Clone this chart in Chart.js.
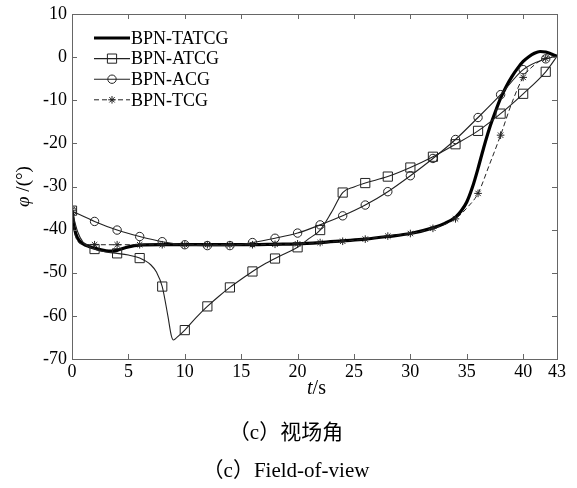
<!DOCTYPE html>
<html>
<head>
<meta charset="utf-8">
<script src="https://cdn.jsdelivr.net/npm/chart.js@4.4.1/dist/chart.umd.min.js"></script>
<style>
html, body { margin: 0; padding: 0; background: #fff; }
#wrap { position: relative; width: 577px; height: 488px; }
</style>
</head>
<body>
<div id="wrap"><canvas id="fov-chart" width="577" height="488"></canvas></div>
<script>
// --- 1. Data (t in s, phi in degrees) ---
const X_TICKS = [0, 5, 10, 15, 20, 25, 30, 35, 40, 43];
const Y_MIN = -70, Y_MAX = 10, Y_STEP = 10;

const T_TATCG = [0, 0.2, 0.5, 1, 1.5, 2, 3, 3.5, 4, 5, 6,
  8, 10, 12, 14, 16, 18, 20, 22, 24, 26, 28, 30, 32,
  33, 34, 34.5, 35, 35.5, 36, 36.5, 37, 37.5, 38, 38.5, 39, 39.5, 40, 40.5, 41, 41.5, 42, 42.5, 43];
const PHI_TATCG = [-35.5, -39.5, -42.0, -43.3, -43.9, -44.3, -44.9, -45.0, -44.8, -44.0, -43.6,
  -43.5, -43.5, -43.5, -43.5, -43.5, -43.4, -43.3, -43.0, -42.6, -42.2, -41.6, -40.9, -39.6,
  -38.6, -37.1, -35.7, -33.6, -30.2, -25.8, -21.0, -16.6, -12.9, -9.5, -6.8, -4.5, -2.6, -1.0, 0.1, 0.9, 1.3, 1.2, 0.7, 0.2];

const T_ATCG = [0, 0.5, 1, 2, 3, 4, 5, 6, 7, 7.5, 8, 8.5, 8.8, 9, 9.3, 10,
  11, 12, 13, 14, 15, 16, 17, 18, 19, 20, 21, 22, 23, 24, 25, 26,
  28, 30, 32, 34, 36, 38, 40, 42, 43];
const PHI_ATCG = [-35.6, -40.5, -43.0, -44.5, -45.2, -45.5, -45.9, -46.6, -48.2, -49.9, -53.2, -60.0, -64.5, -65.6, -65.0, -63.3,
  -60.4, -57.8, -55.5, -53.4, -51.5, -49.7, -48.1, -46.7, -45.4, -44.1, -42.1, -40.1, -36.0, -31.4, -30.1, -29.2,
  -27.7, -25.6, -23.1, -20.2, -17.1, -13.1, -8.5, -3.4, 0.2];

const T_ACG = [0, 2, 4, 6, 8, 10, 12, 14, 16, 18, 20, 22, 24, 26, 28, 30, 32, 34, 36, 38, 40, 42, 43];
const PHI_ACG = [-35.7, -38.1, -40.1, -41.6, -42.8, -43.5, -43.7, -43.7, -43.0, -42.0, -40.8, -38.9,
  -36.8, -34.3, -31.2, -27.5, -23.5, -19.1, -14.0, -8.7, -2.9, -0.4, 0.2];

const T_TCG = [0, 0.3, 1, 2, 4, 6, 8, 10, 12, 14, 16, 18, 20, 22, 24, 26, 28, 30, 32, 34,
  35, 36, 37, 38, 39, 40, 41, 42, 43];
const PHI_TCG = [-35.5, -41.5, -43.4, -43.5, -43.5, -43.5, -43.5, -43.5, -43.5, -43.5, -43.5, -43.4, -43.3, -43.0, -42.7, -42.2, -41.5, -40.9, -39.7, -37.5,
  -35.0, -31.6, -25.0, -18.1, -10.6, -4.7, -1.8, -0.3, 0.2];

const LABELS = ['BPN-TATCG', 'BPN-ATCG', 'BPN-ACG', 'BPN-TCG'];

// --- 2. Styles ---
const SERIF = "Liberation Serif";
const AXIS_GREY = '#666';
const styles = [
  { color: '#000', width: 3.2, dash: [], marker: false, radius: 0 },
  { color: '#222', width: 1.1, dash: [], marker: 'rect', radius: 6.5 },
  { color: '#222', width: 1.1, dash: [], marker: 'circle', radius: 4.2 },
  { color: '#222', width: 1.0, dash: [5, 3], marker: 'star', radius: 3.8 }
];
const seriesT = [T_TATCG, T_ATCG, T_ACG, T_TCG];
const seriesPhi = [PHI_TATCG, PHI_ATCG, PHI_ACG, PHI_TCG];

const datasets = LABELS.map((label, k) => {
  const st = styles[k];
  return {
    label: label,
    data: seriesT[k].map((t, i) => ({ x: t, y: seriesPhi[k][i] })),
    borderColor: st.color,
    borderWidth: st.width,
    borderDash: st.dash,
    cubicInterpolationMode: 'monotone',
    pointStyle: st.marker || 'circle',
    pointBorderColor: st.color,
    pointBackgroundColor: 'rgba(0,0,0,0)',
    pointBorderWidth: 1,
    // markers only every 2 s, like the original plot
    pointRadius: ctx => (st.marker && ctx.raw && ctx.raw.x % 2 === 0) ? st.radius : 0,
    order: 4 - k
  };
});

// --- 3. Plugins: box with inward ticks, axis titles, legend, caption ---
const framePlugin = {
  id: 'frame',
  afterDatasetsDraw(chart) {
    const { ctx, chartArea: a, scales } = chart;
    ctx.save();
    ctx.strokeStyle = AXIS_GREY;
    ctx.lineWidth = 1;
    ctx.strokeRect(Math.round(a.left) + 0.5, Math.round(a.top) + 0.5,
      Math.round(a.right - a.left), Math.round(a.bottom - a.top));
    const len = 5;
    ctx.beginPath();
    scales.x.ticks.forEach(tk => {
      const px = Math.round(scales.x.getPixelForValue(tk.value)) + 0.5;
      ctx.moveTo(px, a.bottom); ctx.lineTo(px, a.bottom - len);
      ctx.moveTo(px, a.top); ctx.lineTo(px, a.top + len);
    });
    scales.y.ticks.forEach(tk => {
      const py = Math.round(scales.y.getPixelForValue(tk.value)) + 0.5;
      ctx.moveTo(a.left, py); ctx.lineTo(a.left + len, py);
      ctx.moveTo(a.right, py); ctx.lineTo(a.right - len, py);
    });
    ctx.stroke();
    ctx.restore();
  }
};

function drawMixed(ctx, parts, cx, cy) {
  // parts: [text, italic, size]
  let total = 0;
  parts.forEach(p => { ctx.font = (p[1] ? 'italic ' : '') + p[2] + 'px "' + SERIF + '"'; total += ctx.measureText(p[0]).width; });
  let x = cx - total / 2;
  parts.forEach(p => {
    ctx.font = (p[1] ? 'italic ' : '') + p[2] + 'px "' + SERIF + '"';
    ctx.fillText(p[0], x, cy);
    x += ctx.measureText(p[0]).width;
  });
}

const labelPlugin = {
  id: 'labels',
  afterDraw(chart) {
    const { ctx, chartArea: a } = chart;
    ctx.save();
    ctx.fillStyle = '#000';
    ctx.textBaseline = 'middle';
    ctx.textAlign = 'left';
    // x title
    drawMixed(ctx, [['t', true, 20], ['/s', false, 20]], (a.left + a.right) / 2 + 2, 389);
    // y title (rotated)
    ctx.save();
    ctx.translate(24, (a.top + a.bottom) / 2);
    ctx.rotate(-Math.PI / 2);
    drawMixed(ctx, [['φ', true, 19], [' /(°)', false, 19]], 0, 0);
    ctx.restore();

    // legend inside the box
    const x0 = a.left + 22, x1 = a.left + 58;
    LABELS.forEach((label, k) => {
      const st = styles[k];
      const y = a.top + 24 + k * 20.6;
      ctx.save();
      ctx.strokeStyle = st.color;
      ctx.lineWidth = st.width;
      ctx.setLineDash(st.dash);
      ctx.beginPath(); ctx.moveTo(x0, y); ctx.lineTo(x1, y); ctx.stroke();
      ctx.setLineDash([]);
      if (st.marker) {
        ctx.lineWidth = 1;
        ctx.fillStyle = 'rgba(0,0,0,0)';
        Chart.helpers.drawPoint(ctx, { pointStyle: st.marker, radius: st.radius, borderWidth: 1, rotation: 0 }, (x0 + x1) / 2, y);
      }
      ctx.restore();
      ctx.font = '18px "' + SERIF + '"';
      ctx.fillStyle = '#000';
      ctx.fillText(label, x1 + 1, y + 1);
    });

    // caption
    ctx.textAlign = 'center';
    ctx.font = '21px "' + SERIF + '", "Noto Sans CJK SC"';
    ctx.fillText('（c）视场角', 286, 433);
    ctx.fillText('（c）Field-of-view', 286, 471);
    ctx.restore();
  }
};

// --- 4. Chart ---
const tickFont = { family: '"' + SERIF + '"', size: 18, lineHeight: 1 };
new Chart(document.getElementById('fov-chart').getContext('2d'), {
  type: 'line',
  data: { datasets: datasets },
  options: {
    responsive: false,
    animation: false,
    events: [],
    layout: { padding: { left: 0, right: 20, top: 10, bottom: 99 } },
    plugins: { legend: { display: false }, tooltip: { enabled: false } },
    scales: {
      x: {
        type: 'linear', min: 0, max: 43,
        afterBuildTicks: s => { s.ticks = X_TICKS.map(v => ({ value: v })); },
        afterFit: s => { s.height = 30; },
        grid: { display: false, drawTicks: false },
        border: { display: false },
        ticks: { font: tickFont, color: '#000', padding: 4, maxRotation: 0, autoSkip: false }
      },
      y: {
        min: Y_MIN, max: Y_MAX,
        ticks: { stepSize: Y_STEP, font: tickFont, color: '#000', padding: 5 },
        afterFit: s => { s.width = 72; },
        grid: { display: false, drawTicks: false },
        border: { display: false }
      }
    }
  },
  plugins: [framePlugin, labelPlugin]
});
</script>
</body>
</html>
